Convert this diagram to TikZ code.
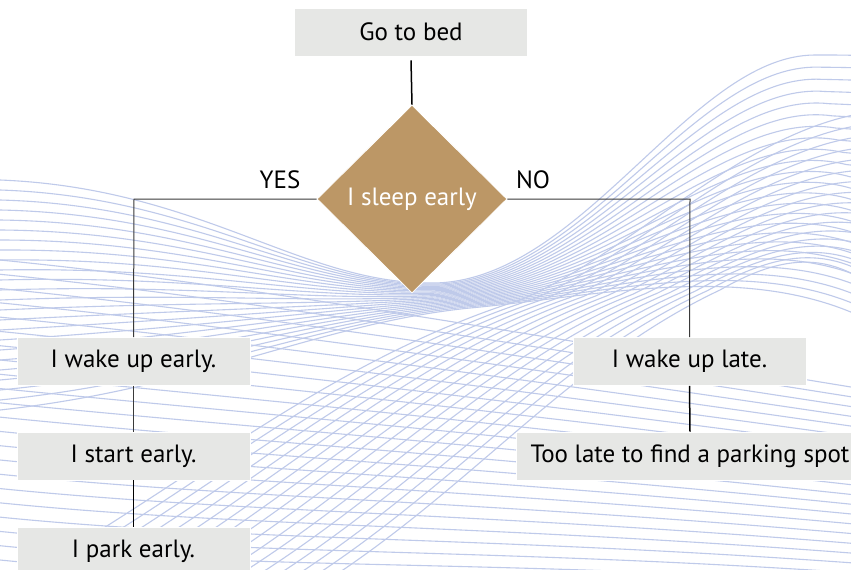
\documentclass[tikz,border=0pt]{standalone}
\usepackage{fontspec}
\setmainfont{PT Sans}
\usetikzlibrary{shapes.geometric}
\definecolor{boxgray}{HTML}{E6E7E5}
\definecolor{tan}{HTML}{BC9766}
\definecolor{wavec}{HTML}{BFCAEA}
\definecolor{linec}{HTML}{3A3A3A}
\tikzset{
  stepbox/.style={rectangle, fill=boxgray, draw=white, line width=0.6pt, minimum width=233pt, minimum height=48pt, inner sep=0pt, font=\fontsize{25}{29}\selectfont, text=black},
  decision/.style={diamond, fill=tan, draw=white, line width=0.8pt, minimum width=190pt, minimum height=188pt, inner sep=0pt, aspect=1, font=\fontsize{25}{29}\selectfont, text=white},
  wave/.style={draw=wavec, line width=1.1pt},
  conn/.style={draw=linec, line width=1pt},
  connb/.style={draw=black, line width=1.5pt},
  lbl/.style={font=\fontsize{25}{29}\selectfont, text=black, inner sep=0pt}
}
\begin{document}
\begin{tikzpicture}[x=1pt,y=-1pt]
\useasboundingbox (0,0) rectangle (851,570);
\clip (0,0) rectangle (851,570);
\fill[white] (0,0) rectangle (851,570);
% background waves
\foreach \i in {0,...,23}{
  \pgfmathsetmacro\t{\i/23}
  \draw[wave] (0,{180+230*\t}) .. controls (200,{188+200*\t}) and ({300+20*\t},{283+40*\t}) .. ({430+40*\t},{283+25*\t})
    .. controls ({580+30*\t},{285+10*\t}) and ({690+80*\t},{55+200*\t}) .. ({815+80*\t},{55+280*\t})
    .. controls ({860+60*\t},{55+290*\t}) .. (980,{62+300*\t});
}
\foreach \i in {0,...,16}{
  \pgfmathsetmacro\t{\i/16}
  \draw[wave] ({-60+320*\t},620) .. controls ({150+300*\t},520) and ({300+250*\t},370) .. ({520+200*\t},{300-10*\t})
    .. controls ({640+150*\t},250) and ({760+80*\t},{110+140*\t}) .. (900,{110+200*\t});
}
\foreach \i in {0,...,21}{
  \pgfmathsetmacro\t{\i/21}
  \draw[wave] (0,{260+300*\t}) .. controls (250,{285+300*\t}) and (500,{330+240*\t}) .. (900,{395+200*\t});
}
% nodes
\node[stepbox] (bed) at (411,32) {Go to bed};
\node[decision] (sleep) at (412,199) {I sleep early};
\node[stepbox] (wakeE) at (133.5,361.5) {I wake up early.};
\node[stepbox] (startE) at (133.5,456) {I start early.};
\node[stepbox] (parkE) at (133.5,551) {I park early.};
\node[stepbox] (wakeL) at (689.5,361.5) {I wake up late.};
\node[stepbox, minimum width=348pt] (tooL) at (690,456) {Too late to find a parking spot};
% connectors
\coordinate (yc) at (134,199);
\coordinate (nc) at (690,199);
\draw[connb] ([yshift=-4pt]bed.south) -- (sleep.north);
\draw[conn] (sleep.west) -- (yc) -- (wakeE.north);
\draw[conn] (sleep.east) -- (nc) -- (wakeL.north);
\draw[conn] (wakeE.south) -- (startE.north);
\draw[connb] (startE.south) -- (parkE.north);
\draw[connb] (wakeL.south) -- (tooL.north);
\node[lbl] (yes) at (280,180) {YES};
\node[lbl] (no) at (533,180) {NO};
\end{tikzpicture}
\end{document}
